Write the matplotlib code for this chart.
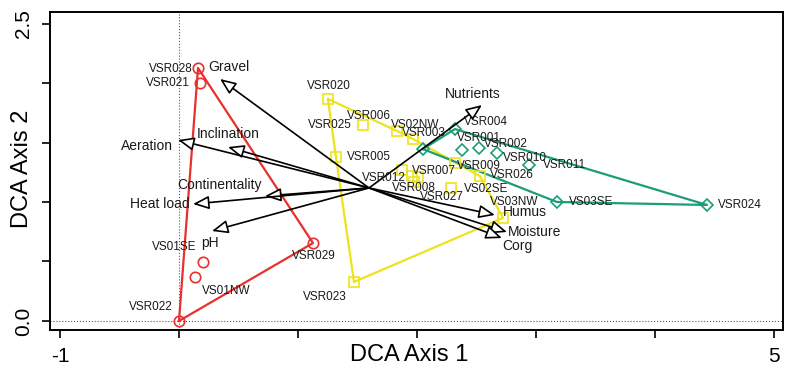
import matplotlib
matplotlib.use("Agg")
import matplotlib.pyplot as plt
import numpy as np

plt.rcParams['font.family'] = ['Liberation Sans', 'DejaVu Sans']

# site scores (DCA axis 1, axis 2) per group
red_names = ["VSR028", "VSR021", "VSR022", "VSR029", "VS01SE", "VS01NW"]
red_x = [0.160, 0.176, 0.000, 1.126, 0.202, 0.134]
red_y = [2.126, 2.000, 0.000, 0.655, 0.496, 0.370]

yel_names = ["VSR020", "VSR025", "VSR006", "VS02NW", "VSR005", "VSR012", "VSR007",
             "VSR008", "VSR027", "VS02SE", "VSR009", "VSR026", "VS03NW", "VSR023"]
yel_x = [1.252, 1.546, 1.832, 1.966, 1.319, 1.958, 1.874,
         1.975, 2.008, 2.286, 2.319, 2.529, 2.723, 1.471]
yel_y = [1.866, 1.647, 1.597, 1.530, 1.378, 1.218, 1.269,
         1.168, 1.210, 1.118, 1.328, 1.218, 0.866, 0.328]

grn_names = ["VSR003", "VSR004", "VSR001", "VSR002", "VSR010", "VSR011", "VS03SE", "VSR024"]
grn_x = [2.050, 2.319, 2.378, 2.521, 2.672, 2.941, 3.176, 4.437]
grn_y = [1.445, 1.613, 1.437, 1.454, 1.412, 1.311, 1.000, 0.975]

# environmental vectors
env_names = ["Gravel", "Inclination", "Aeration", "Continentality", "Heat load", "pH",
             "Nutrients", "Humus", "Moisture", "Corg"]
env_x = [0.345, 0.412, -0.008, 0.723, 0.118, 0.277, 2.546, 2.655, 2.756, 2.714]
env_y = [2.034, 1.462, 1.521, 1.050, 0.983, 0.756, 1.815, 0.891, 0.748, 0.697]
env_origin = (1.597, 1.118)

# label offsets in pixels (dx, dy up) and alignment
red_lab = [(-5, -1, "right"), (-10, 0, "right"), (-6, 14, "right"), (-21, -13, "left"),
           (-7, 15, "right"), (7, -14, "left")]
yel_lab = [(-21, 13, "left"), (-11, 0, "right"), (-6, 15, "right"), (-22, 14, "left"),
           (11, 0, "left"), (-6, -2, "right"), (10, -1, "left"), (-22, -6, "left"),
           (2, -20, "left"), (13, -1, "left"), (2, -3, "left"), (10, 1, "left"),
           (-13, 16, "left"), (-7, -15, "right")]
grn_lab = [(-21, 16, "left"), (9, 7, "left"), (-5, 12, "left"), (5, 4, "left"),
           (6, -5, "left"), (14, 0, "left"), (12, 0, "left"), (11, 0, "left")]
env_lab = [(-12, 12, "left"), (-31, 13, "left"), (-5, -6, "right"), (-88, 11, "left"),
           (-3, 0, "right"), (-11, -12, "left"), (-37, 11, "left"), (8, 3, "left"),
           (1, 0, "left"), (0, -8, "left")]


def hull(xs, ys):
    pts = sorted(zip(xs, ys))
    def cross(o, a, b):
        return (a[0]-o[0])*(b[1]-o[1]) - (a[1]-o[1])*(b[0]-o[0])
    lower, upper = [], []
    for p in pts:
        while len(lower) >= 2 and cross(lower[-2], lower[-1], p) <= 0:
            lower.pop()
        lower.append(p)
    for p in reversed(pts):
        while len(upper) >= 2 and cross(upper[-2], upper[-1], p) <= 0:
            upper.pop()
        upper.append(p)
    h = lower[:-1] + upper[:-1]
    h.append(h[0])
    return [p[0] for p in h], [p[1] for p in h]


fig = plt.figure(figsize=(7.89, 3.71), dpi=100)
ax = fig.add_axes([50/789, 1-330/371, 733/789, 318/371])
ax.set_xlim(-1.084, 5.076)
ax.set_ylim(-0.076, 2.597)

ax.axhline(0, ls=':', color='#555555', lw=0.8, zorder=1)
ax.axvline(0, ls=':', color='#555555', lw=0.8, zorder=1)

px = 0.72  # pixel -> points
groups = [
    (red_names, red_x, red_y, red_lab, "#e8302c", "o", 7.5),
    (yel_names, yel_x, yel_y, yel_lab, "#eee31a", "s", 6.5),
    (grn_names, grn_x, grn_y, grn_lab, "#1b9e77", "D", 6.5),
]
for names, xs, ys, labs, col, mk, ms in groups:
    hx, hy = hull(xs, ys)
    ax.plot(hx, hy, color=col, lw=1.6, zorder=2)
    ax.plot(xs, ys, ls='none', marker=mk, ms=ms, mfc='none', mec=col, mew=1.2, zorder=3)
    for n, x, y, (dx, dy, ha) in zip(names, xs, ys, labs):
        ax.annotate(n, (x, y), xytext=(dx*px, dy*px), textcoords='offset points',
                    ha=ha, va='center', fontsize=8.5, color='#1a1a1a', zorder=5)

for n, x, y, (dx, dy, ha) in zip(env_names, env_x, env_y, env_lab):
    ax.annotate('', xy=(x, y), xytext=env_origin,
                arrowprops=dict(arrowstyle='-|>,head_length=0.65,head_width=0.27',
                                mutation_scale=15, fc='white', ec='black', lw=1.2,
                                shrinkA=0, shrinkB=0), zorder=4)
    ax.annotate(n, (x, y), xytext=(dx*px, dy*px), textcoords='offset points',
                ha=ha, va='center', fontsize=10, color='#1a1a1a', zorder=5)

for s in ax.spines.values():
    s.set_linewidth(1.4)
ax.set_xticks([-1, 0, 1, 2, 3, 4, 5])
ax.set_xticklabels(["-1", "", "", "", "", "", "5"])
ax.set_yticks([0, 0.5, 1, 1.5, 2, 2.5])
ax.set_yticklabels(["0.0", "", "", "", "", "2.5"], rotation=90, va='center')
ax.tick_params(direction='out', length=6, width=1.2, labelsize=15, pad=6)

ax.set_xlabel("DCA Axis 1", fontsize=17)
ax.xaxis.set_label_coords(0.49, -0.045)
ax.set_ylabel("DCA Axis 2", fontsize=17)
ax.yaxis.set_label_coords(-0.023, 0.508)

fig.savefig("out.png", dpi=100)
